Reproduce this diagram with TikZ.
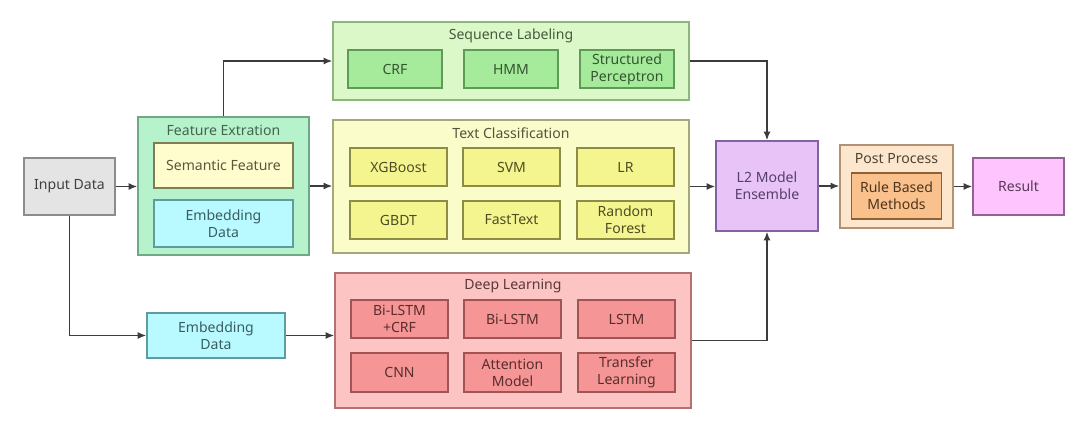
\documentclass[tikz,border=0pt]{standalone}
\usepackage{fontspec}
\setmainfont{Noto Sans}
\usepackage{tikz}
\usepackage{xcolor}
\usetikzlibrary{calc,arrows.meta,positioning}

\definecolor{grayfill}{HTML}{E4E4E4}
\definecolor{grayline}{HTML}{8C8C8C}
\definecolor{featfill}{HTML}{B6F2CB}
\definecolor{featline}{HTML}{6FA884}
\definecolor{semfill}{HTML}{FFFDCE}
\definecolor{semline}{HTML}{7E7E55}
\definecolor{embfill}{HTML}{B8FAFF}
\definecolor{embline}{HTML}{5E9CA2}
\definecolor{seqfill}{HTML}{DBF8C9}
\definecolor{seqline}{HTML}{8DB67D}
\definecolor{crffill}{HTML}{A6EB9C}
\definecolor{crfline}{HTML}{5F9A57}
\definecolor{txtfill}{HTML}{FAFCC9}
\definecolor{txtline}{HTML}{A6A87C}
\definecolor{clsfill}{HTML}{F5F590}
\definecolor{clsline}{HTML}{8C8C45}
\definecolor{deepfill}{HTML}{FDC4C4}
\definecolor{deepline}{HTML}{B27272}
\definecolor{nnfill}{HTML}{F59595}
\definecolor{nnline}{HTML}{A25454}
\definecolor{ensfill}{HTML}{E8C3F8}
\definecolor{ensline}{HTML}{8262A2}
\definecolor{postfill}{HTML}{FCE7CE}
\definecolor{postline}{HTML}{B29272}
\definecolor{rulefill}{HTML}{FAC18D}
\definecolor{ruleline}{HTML}{8C6234}
\definecolor{resfill}{HTML}{FEC4FE}
\definecolor{resline}{HTML}{926292}
\definecolor{wire}{HTML}{3C3C3C}

\tikzset{
  box/.style={draw, rectangle, align=center, inner sep=1pt, line width=0.7pt,
    font=\fontsize{8}{9.6}\selectfont},
  sz/.style 2 args={minimum width=#1*0.02cm, minimum height=#2*0.02cm},
  title/.style={inner sep=0pt, font=\fontsize{8}{9.6}\selectfont},
  wirearrow/.style={draw=wire, line width=0.9pt, -{Latex[length=5pt,width=4pt]}}
}

\begin{document}
\begin{tikzpicture}[x=0.02cm,y=-0.02cm]
\useasboundingbox (0,0) rectangle (1080,422);
\fill[white] (0,0) rectangle (1080,422);

\node[box, sz={91}{57}, fill=grayfill, draw=grayline, text=black!75] (inp) at (69.5,186.5) {Input Data};

\node[box, sz={171}{138}, fill=featfill, draw=featline] (feat) at (223.5,186) {};
\node[title, text=featline!60!black] (feattitle) at (223.5,130) {Feature Extration};
\node[box, sz={139}{45}, fill=semfill, draw=semline, text=semline!70!black] (sem) at (223.5,165.5) {Semantic Feature};
\node[box, sz={139}{47}, fill=embfill, draw=embline, text=embline!60!black] (embA) at (223.5,223.5) {Embedding\\Data};

\node[box, sz={356}{78}, fill=seqfill, draw=seqline] (seq) at (511,61) {};
\node[title, text=seqline!50!black] (seqtitle) at (511,36) {Sequence Labeling};
\node[box, sz={94}{38}, fill=crffill, draw=crfline, text=crfline!55!black] (crf) at (395,69) {CRF};
\node[box, sz={94}{38}, fill=crffill, draw=crfline, text=crfline!55!black] (hmm) at (511,69) {HMM};
\node[box, sz={94}{38}, fill=crffill, draw=crfline, text=crfline!55!black] (sp) at (627,69) {Structured\\Perceptron};

\node[box, sz={356}{133}, fill=txtfill, draw=txtline] (txt) at (511,186.5) {};
\node[title, text=txtline!50!black] (txttitle) at (511,133) {Text Classification};
\node[box, sz={97}{38}, fill=clsfill, draw=clsline, text=clsline!55!black] (xgb) at (398.5,167) {XGBoost};
\node[box, sz={97}{38}, fill=clsfill, draw=clsline, text=clsline!55!black] (svm) at (511.5,167) {SVM};
\node[box, sz={97}{38}, fill=clsfill, draw=clsline, text=clsline!55!black] (lr) at (625.5,167) {LR};
\node[box, sz={97}{38}, fill=clsfill, draw=clsline, text=clsline!55!black] (gbdt) at (398.5,220) {GBDT};
\node[box, sz={97}{38}, fill=clsfill, draw=clsline, text=clsline!55!black] (ft) at (511.5,220) {FastText};
\node[box, sz={97}{38}, fill=clsfill, draw=clsline, text=clsline!55!black] (rf) at (625.5,220) {Random\\Forest};

\node[box, sz={356}{135}, fill=deepfill, draw=deepline] (deep) at (513,340.5) {};
\node[title, text=deepline!50!black] (deeptitle) at (513,286) {Deep Learning};
\node[box, sz={97}{38}, fill=nnfill, draw=nnline, text=nnline!55!black] (bicrf) at (399.5,319) {Bi-LSTM\\+CRF};
\node[box, sz={97}{38}, fill=nnfill, draw=nnline, text=nnline!55!black] (bilstm) at (512.5,319) {Bi-LSTM};
\node[box, sz={97}{38}, fill=nnfill, draw=nnline, text=nnline!55!black] (lstm) at (626.5,319) {LSTM};
\node[box, sz={97}{39}, fill=nnfill, draw=nnline, text=nnline!55!black] (cnn) at (399.5,372.5) {CNN};
\node[box, sz={97}{39}, fill=nnfill, draw=nnline, text=nnline!55!black] (att) at (512.5,372.5) {Attention\\Model};
\node[box, sz={97}{39}, fill=nnfill, draw=nnline, text=nnline!55!black] (tl) at (626.5,372.5) {Transfer\\Learning};

\node[box, sz={138}{45}, fill=embfill, draw=embline, text=embline!60!black] (embB) at (216,335.5) {Embedding\\Data};

\node[box, sz={102}{90}, fill=ensfill, draw=ensline, text=ensline!65!black] (ens) at (767,186) {L2 Model\\Ensemble};

\node[box, sz={113}{83}, fill=postfill, draw=postline] (post) at (896.5,186.5) {};
\node[title, text=postline!45!black] (posttitle) at (896.5,159) {Post Process};
\node[box, sz={90}{46}, fill=rulefill, draw=ruleline, text=ruleline!55!black] (rule) at (896.5,196) {Rule Based\\Methods};

\node[box, sz={91}{57}, fill=resfill, draw=resline, text=resline!60!black] (res) at (1018.5,186.5) {Result};

\draw[wirearrow] (inp.east) -- (feat.west |- inp.east);
\draw[wirearrow] (feat.east) -- (txt.west |- feat.east);
\draw[wirearrow] (feat.north) |- (seq.west);
\draw[wirearrow] (seq.east) -| (ens.north);
\draw[wirearrow] (txt.east) -- (ens.west |- txt.east);
\draw[wirearrow] (deep.east) -| (ens.south);
\draw[wirearrow] (inp.south) |- (embB.west);
\draw[wirearrow] (embB.east) -- (deep.west |- embB.east);
\draw[wirearrow] (ens.east) -- (post.west |- ens.east);
\draw[wirearrow] (post.east) -- (res.west |- post.east);
\end{tikzpicture}
\end{document}
